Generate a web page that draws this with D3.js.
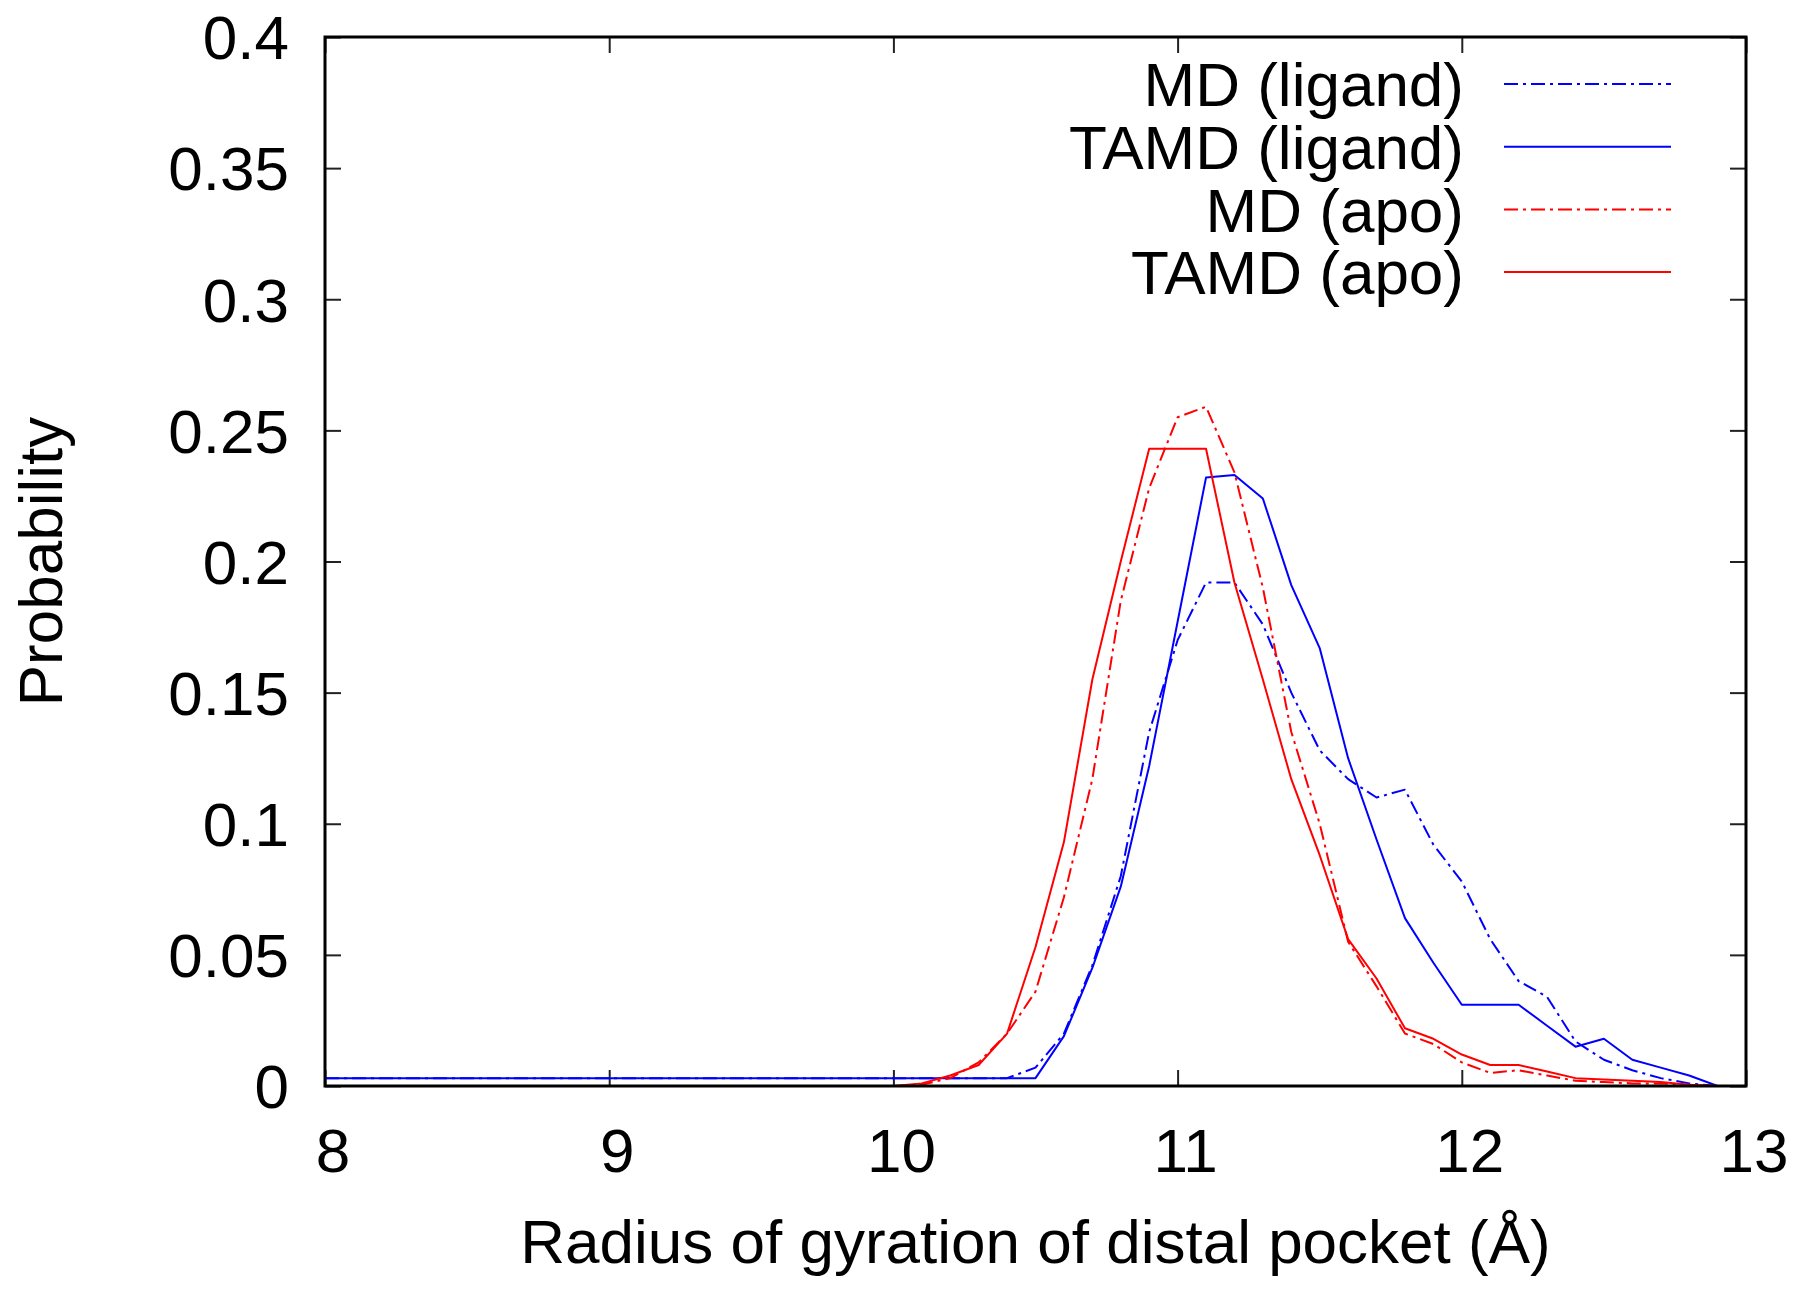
<!DOCTYPE html>
<html>
<head>
<meta charset="utf-8">
<script src="https://cdn.jsdelivr.net/npm/d3@7"></script>
<style>
  html, body { margin: 0; padding: 0; background: #ffffff; }
  svg { display: block; }
  text { font-family: "Liberation Sans", Arial, Helvetica, sans-serif; fill: #000; }
</style>
</head>
<body>
<svg id="chart" width="1800" height="1293"></svg>
<script>
// ---------- data ----------
const xValues = [8.0, 10.0, 10.1, 10.2, 10.3, 10.4, 10.5, 10.6, 10.7, 10.8, 10.9,
  11.0, 11.1, 11.2, 11.3, 11.4, 11.5, 11.6, 11.7, 11.8, 11.9,
  12.0, 12.1, 12.2, 12.3, 12.4, 12.5, 12.6, 12.7, 12.8, 12.9, 13.0];

const mdLigand = [0.003, 0.003, 0.003, 0.003, 0.003, 0.003, 0.007, 0.020, 0.046, 0.080, 0.135,
  0.170, 0.192, 0.192, 0.176, 0.150, 0.128, 0.117, 0.110, 0.113, 0.092,
  0.078, 0.056, 0.040, 0.034, 0.017, 0.010, 0.006, 0.003, 0.001, 0.0, 0.0];

const tamdLigand = [0.003, 0.003, 0.003, 0.003, 0.003, 0.003, 0.003, 0.019, 0.045, 0.076, 0.122,
  0.177, 0.232, 0.233, 0.224, 0.191, 0.167, 0.125, 0.094, 0.064, 0.047,
  0.031, 0.031, 0.031, 0.023, 0.015, 0.018, 0.010, 0.007, 0.004, 0.0, 0.0];

const mdApo = [0.0, 0.0, 0.0005, 0.003, 0.009, 0.020, 0.036, 0.072, 0.117, 0.185, 0.228,
  0.255, 0.259, 0.234, 0.190, 0.135, 0.100, 0.055, 0.038, 0.020, 0.016,
  0.009, 0.005, 0.006, 0.004, 0.002, 0.0015, 0.001, 0.001, 0.0005, 0.0, 0.0];

const tamdApo = [0.0, 0.0, 0.001, 0.004, 0.008, 0.020, 0.053, 0.093, 0.155, 0.200, 0.243,
  0.243, 0.243, 0.192, 0.155, 0.117, 0.088, 0.056, 0.041, 0.022, 0.018,
  0.012, 0.008, 0.008, 0.0055, 0.003, 0.0025, 0.002, 0.0015, 0.0005, 0.0, 0.0];

const seriesNames = ["MD (ligand)", "TAMD (ligand)", "MD (apo)", "TAMD (apo)"];
const xTicks = [8, 9, 10, 11, 12, 13];
const xTickLabels = ["8", "9", "10", "11", "12", "13"];
const yTicks = [0, 0.05, 0.1, 0.15, 0.2, 0.25, 0.3, 0.35, 0.4];
const yTickLabels = ["0", "0.05", "0.1", "0.15", "0.2", "0.25", "0.3", "0.35", "0.4"];
const xTitle = "Radius of gyration of distal pocket (Å)";
const yTitle = "Probability";

// ---------- styles ----------
const series = [
  { name: seriesNames[0], values: mdLigand, color: "#0000ff", dash: "14,5,3,5" },
  { name: seriesNames[1], values: tamdLigand, color: "#0000ff", dash: null },
  { name: seriesNames[2], values: mdApo, color: "#ff0000", dash: "14,5,3,5" },
  { name: seriesNames[3], values: tamdApo, color: "#ff0000", dash: null }
];

const L = 325, R = 1746, T = 37, B = 1086;
const FS = 62;
const svg = d3.select("#chart");

const x = d3.scaleLinear().domain([8, 13]).range([L, R]);
const y = d3.scaleLinear().domain([0, 0.4]).range([B, T]);

// ticks (inward, all four sides)
const tickLen = 16;
const axB = svg.append("g").attr("transform", `translate(0,${B})`)
  .call(d3.axisBottom(x).tickValues(xTicks).tickSizeInner(-tickLen).tickSizeOuter(0).tickFormat(""));
const axT = svg.append("g").attr("transform", `translate(0,${T})`)
  .call(d3.axisTop(x).tickValues(xTicks).tickSizeInner(-tickLen).tickSizeOuter(0).tickFormat(""));
const axL = svg.append("g").attr("transform", `translate(${L},0)`)
  .call(d3.axisLeft(y).tickValues(yTicks).tickSizeInner(-tickLen).tickSizeOuter(0).tickFormat(""));
const axR = svg.append("g").attr("transform", `translate(${R},0)`)
  .call(d3.axisRight(y).tickValues(yTicks).tickSizeInner(-tickLen).tickSizeOuter(0).tickFormat(""));
[axB, axT, axL, axR].forEach(a => {
  a.select(".domain").remove();
  a.selectAll(".tick line").attr("stroke", "#222").attr("stroke-width", 2);
});

// tick labels
svg.append("g").selectAll("text").data(xTicks).join("text")
  .attr("x", d => x(d) + 8).attr("y", 1172)
  .attr("text-anchor", "middle").attr("font-size", FS)
  .text((d, i) => xTickLabels[i]);
svg.append("g").selectAll("text").data(yTicks).join("text")
  .attr("x", 289).attr("y", d => y(d))
  .attr("dy", "0.36em")
  .attr("text-anchor", "end").attr("font-size", FS)
  .text((d, i) => yTickLabels[i]);

// axis titles
svg.append("text").attr("x", (L + R) / 2).attr("y", 1263)
  .attr("text-anchor", "middle").attr("font-size", FS).text(xTitle);
svg.append("text")
  .attr("transform", `translate(62,${(T + B) / 2}) rotate(-90)`)
  .attr("text-anchor", "middle").attr("font-size", FS).text(yTitle);

// clip
svg.append("clipPath").attr("id", "clip").append("rect")
  .attr("x", L).attr("y", T - 2).attr("width", R - L).attr("height", B - T + 2);

const line = d3.line().x(d => x(d[0])).y(d => y(d[1]));
const plot = svg.append("g").attr("clip-path", "url(#clip)");
series.forEach(s => {
  plot.append("path")
    .datum(xValues.map((xv, i) => [xv, s.values[i]]))
    .attr("d", line)
    .attr("fill", "none")
    .attr("stroke", s.color)
    .attr("stroke-width", 2)
    .attr("stroke-dasharray", s.dash)
    .attr("stroke-linejoin", "round");
});

// frame
svg.append("rect").attr("x", L).attr("y", T).attr("width", R - L).attr("height", B - T)
  .attr("fill", "none").attr("stroke", "#000").attr("stroke-width", 3);

// legend
const legTextX = 1464, legX1 = 1504, legX2 = 1671;
const legY0 = 84, legStep = 62.7;
const leg = svg.append("g");
series.forEach((s, i) => {
  const yy = legY0 + i * legStep;
  leg.append("text").attr("x", legTextX).attr("y", yy).attr("dy", "0.36em")
    .attr("text-anchor", "end").attr("font-size", FS).text(s.name);
  leg.append("line").attr("x1", legX1).attr("x2", legX2).attr("y1", yy).attr("y2", yy)
    .attr("stroke", s.color).attr("stroke-width", 2).attr("stroke-dasharray", s.dash);
});
</script>
</body>
</html>
